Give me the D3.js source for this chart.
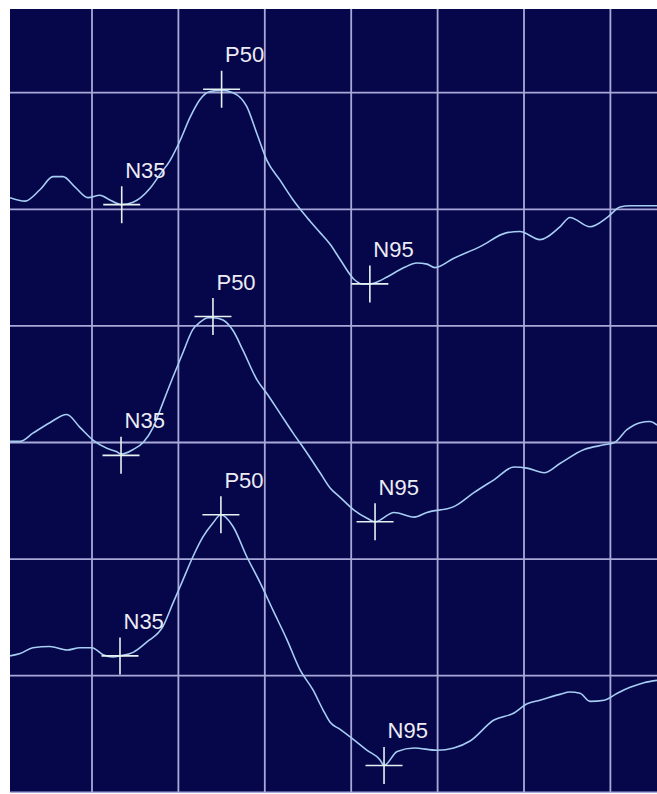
<!DOCTYPE html>
<html>
<head>
<meta charset="utf-8">
<script src="https://cdn.jsdelivr.net/npm/d3@7"></script>
<style>
  body { margin: 0; background: #fff; }
  svg { display: block; }
</style>
</head>
<body>
<div id="vep"></div>
<script>
// latency (ms) and amplitude (grid divisions)
var trace1_t = [1.3, 5.6, 10, 13.7, 16.6, 20.1, 23.8, 27.3, 30.2, 33.6, 36.9, 41.8, 44.7, 47.6, 50.5, 53.4, 56.2, 59.1, 62.5, 65.8, 69.8, 72.7, 75.6, 79.4, 83.2, 87.2, 91, 93.9, 96.8, 100.8, 103.1, 105.4, 107.8, 110.4, 115.3, 119, 121.9, 124.2, 129.7, 137.3, 145.1, 148.8, 154.6, 160.4, 163.3, 169.1, 174.1, 177.8, 180.7, 188.5];
var trace1_v = [5.10, 5.07, 5.17, 5.28, 5.28, 5.19, 5.10, 5.12, 5.08, 5.04, 5.06, 5.18, 5.30, 5.42, 5.59, 5.79, 5.94, 6.01, 6.02, 6.00, 5.88, 5.65, 5.42, 5.25, 5.08, 4.93, 4.80, 4.70, 4.57, 4.40, 4.36, 4.36, 4.38, 4.42, 4.50, 4.54, 4.53, 4.50, 4.58, 4.68, 4.80, 4.81, 4.74, 4.85, 4.93, 4.85, 4.93, 5.02, 5.03, 5.03];

var trace2_t = [1.3, 4.2, 7.9, 12.8, 17.7, 21.5, 25.3, 29.3, 32.2, 33.4, 36.9, 39.8, 42.7, 45.5, 48.4, 51.3, 54.2, 56.2, 58.6, 60, 62.9, 65.8, 68.7, 72.7, 75.6, 79.4, 83.2, 87.2, 91, 93.9, 96.8, 100.8, 104.6, 106.9, 112.4, 118.2, 121.9, 129.7, 135.5, 141.3, 147.1, 150.9, 155.8, 160.4, 167.4, 173.2, 176.2, 179.8, 183.6, 186.4, 188.5];
var trace2_v = [3.01, 3.01, 3.08, 3.17, 3.24, 3.13, 3.02, 2.95, 2.92, 2.90, 2.94, 3.00, 3.13, 3.34, 3.56, 3.77, 3.97, 4.03, 4.07, 4.07, 4.05, 3.96, 3.79, 3.54, 3.42, 3.25, 3.08, 2.91, 2.74, 2.61, 2.53, 2.42, 2.35, 2.32, 2.40, 2.36, 2.40, 2.45, 2.57, 2.68, 2.79, 2.78, 2.74, 2.82, 2.94, 2.98, 3.00, 3.11, 3.17, 3.18, 3.15];

var trace3_t = [1.3, 4.2, 7.9, 12.8, 17.8, 21.5, 25, 28.2, 31.1, 33.1, 36.9, 40.9, 45.5, 48.4, 51.3, 54.2, 57.1, 60, 62.3, 65.8, 69.8, 73.6, 77.4, 81.4, 85.2, 88.9, 91.8, 93.9, 96.8, 100.8, 104.6, 108.3, 109.5, 113.3, 118.2, 124.8, 129.7, 134.4, 141.3, 147.1, 150.9, 154.6, 160.4, 163.3, 166.2, 169.1, 173.2, 177, 180.7, 184.7, 188.5];
var trace3_v = [1.17, 1.19, 1.24, 1.25, 1.22, 1.24, 1.24, 1.18, 1.16, 1.17, 1.20, 1.29, 1.42, 1.62, 1.82, 2.02, 2.19, 2.31, 2.38, 2.28, 2.02, 1.80, 1.56, 1.31, 1.05, 0.88, 0.71, 0.60, 0.54, 0.45, 0.36, 0.28, 0.23, 0.35, 0.38, 0.36, 0.38, 0.44, 0.62, 0.68, 0.76, 0.79, 0.84, 0.86, 0.85, 0.78, 0.79, 0.85, 0.90, 0.94, 0.96];

// peak markers
var peakNames = ["N35", "P50", "N95"];
var peaks1_t = [33.6, 62.5, 105.4], peaks1_v = [5.04, 6.03, 4.36];
var peaks2_t = [33.4, 60.0, 106.9], peaks2_v = [2.89, 4.08, 2.32];
var peaks3_t = [33.1, 62.3, 109.5], peaks3_v = [1.17, 2.38, 0.23];

var gridT = [25, 50, 75, 100, 125, 150, 175];
var gridV = [0, 1, 2, 3, 4, 5, 6];

var width = 657, height = 794;
var plot = {x0: 10, y0: 9, x1: 657, y1: 793};

var svg = d3.select("#vep").append("svg")
  .attr("width", width)
  .attr("height", height);

svg.append("defs").append("clipPath").attr("id", "clip")
  .append("rect")
  .attr("x", plot.x0).attr("y", plot.y0)
  .attr("width", plot.x1 - plot.x0).attr("height", plot.y1 - plot.y0);

svg.append("rect")
  .attr("x", plot.x0).attr("y", plot.y0)
  .attr("width", plot.x1 - plot.x0).attr("height", plot.y1 - plot.y0)
  .attr("fill", "#06064a");

var x = d3.scaleLinear().domain([0, 200]).range([5.6, 5.6 + 200 * 3.456]);
var y = d3.scaleLinear().domain([0, 7]).range([792.3, 792.3 - 7 * 116.6]);

var g = svg.append("g").attr("clip-path", "url(#clip)");

g.selectAll("line.vg")
  .data(gridT)
  .join("line")
  .attr("class", "vg")
  .attr("x1", d => x(d)).attr("x2", d => x(d))
  .attr("y1", plot.y0).attr("y2", plot.y1)
  .attr("stroke", "#a9a9d9")
  .attr("stroke-width", 1.8);

g.selectAll("line.hg")
  .data(gridV)
  .join("line")
  .attr("class", "hg")
  .attr("x1", plot.x0).attr("x2", plot.x1)
  .attr("y1", d => y(d)).attr("y2", d => y(d))
  .attr("stroke", "#a9a9d9")
  .attr("stroke-width", 1.8);

var traces = [
  {t: trace1_t, v: trace1_v, pt: peaks1_t, pv: peaks1_v},
  {t: trace2_t, v: trace2_v, pt: peaks2_t, pv: peaks2_v},
  {t: trace3_t, v: trace3_v, pt: peaks3_t, pv: peaks3_v}
];

var line = d3.line()
  .x(d => x(d[0]))
  .y(d => y(d[1]))
  .curve(d3.curveMonotoneX);

traces.forEach(function(tr) {
  var pts = tr.t.map((t, i) => [t, tr.v[i]]);
  g.append("path")
    .datum(pts)
    .attr("d", line)
    .attr("fill", "none")
    .attr("stroke", "#a6cdf2")
    .attr("stroke-width", 1.6);

  var pk = tr.pt.map((t, i) => ({t: t, v: tr.pv[i], name: peakNames[i]}));
  var m = g.selectAll(null).data(pk).enter().append("g")
    .attr("transform", d => "translate(" + x(d.t) + "," + y(d.v) + ")");
  m.append("path")
    .attr("d", "M-18.5,0H18.5M0,-18.5V18.5")
    .attr("stroke", "#e6f2f0")
    .attr("stroke-width", 1.6);
  m.append("text")
    .attr("x", 3.5)
    .attr("y", -27)
    .attr("fill", "#ececf4")
    .attr("font-family", "Liberation Sans, Arial, sans-serif")
    .attr("font-size", 22)
    .text(d => d.name);
});
</script>
</body>
</html>
